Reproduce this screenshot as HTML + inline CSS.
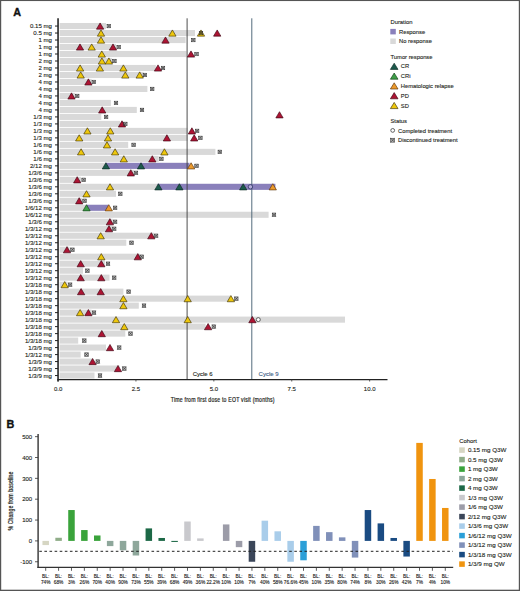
<!DOCTYPE html><html><head><meta charset="utf-8"><style>html,body{margin:0;padding:0;background:#fff;}svg{display:block;}</style></head><body>
<svg width="520" height="591" viewBox="0 0 520 591" font-family='"Liberation Sans", sans-serif'>
<rect x="0" y="0" width="520" height="591" fill="#fff"/>
<text x="13.3" y="15.8" font-size="10.8" font-weight="bold" fill="#111" stroke="#111" stroke-width="0.35">A</text>
<rect x="59.6" y="23.00" width="46.40" height="6.1" fill="#d9d9d9"/>
<rect x="59.6" y="29.99" width="135.40" height="6.1" fill="#d9d9d9"/>
<rect x="59.6" y="36.98" width="126.00" height="6.1" fill="#d9d9d9"/>
<rect x="59.6" y="43.97" width="56.40" height="6.1" fill="#d9d9d9"/>
<rect x="59.6" y="50.96" width="126.90" height="6.1" fill="#d9d9d9"/>
<rect x="59.6" y="57.95" width="52.40" height="6.1" fill="#d9d9d9"/>
<rect x="59.6" y="64.94" width="96.20" height="6.1" fill="#d9d9d9"/>
<rect x="59.6" y="71.93" width="84.00" height="6.1" fill="#d9d9d9"/>
<rect x="59.6" y="78.92" width="32.10" height="6.1" fill="#d9d9d9"/>
<rect x="59.6" y="85.91" width="87.80" height="6.1" fill="#d9d9d9"/>
<rect x="59.6" y="92.90" width="15.40" height="6.1" fill="#d9d9d9"/>
<rect x="59.6" y="99.89" width="51.30" height="6.1" fill="#d9d9d9"/>
<rect x="59.6" y="106.88" width="77.20" height="6.1" fill="#d9d9d9"/>
<rect x="59.6" y="113.87" width="41.70" height="6.1" fill="#d9d9d9"/>
<rect x="59.6" y="120.86" width="60.40" height="6.1" fill="#d9d9d9"/>
<rect x="59.6" y="127.85" width="127.90" height="6.1" fill="#d9d9d9"/>
<rect x="59.6" y="134.84" width="127.90" height="6.1" fill="#d9d9d9"/>
<rect x="59.6" y="141.83" width="68.60" height="6.1" fill="#d9d9d9"/>
<rect x="59.6" y="148.82" width="155.80" height="6.1" fill="#d9d9d9"/>
<rect x="59.6" y="155.81" width="99.10" height="6.1" fill="#d9d9d9"/>
<rect x="59.6" y="162.80" width="46.00" height="6.1" fill="#d9d9d9"/>
<rect x="105.6" y="162.80" width="83.90" height="6.1" fill="#8a80bb"/>
<rect x="59.6" y="169.79" width="74.40" height="6.1" fill="#d9d9d9"/>
<rect x="59.6" y="176.78" width="21.40" height="6.1" fill="#d9d9d9"/>
<rect x="59.6" y="183.77" width="97.90" height="6.1" fill="#d9d9d9"/>
<rect x="157.5" y="183.77" width="117.90" height="6.1" fill="#8a80bb"/>
<rect x="59.6" y="190.76" width="56.40" height="6.1" fill="#d9d9d9"/>
<rect x="59.6" y="197.75" width="22.40" height="6.1" fill="#d9d9d9"/>
<rect x="59.6" y="204.74" width="27.10" height="6.1" fill="#d9d9d9"/>
<rect x="86.7" y="204.74" width="21.80" height="6.1" fill="#8a80bb"/>
<rect x="59.6" y="211.73" width="209.00" height="6.1" fill="#d9d9d9"/>
<rect x="59.6" y="218.72" width="53.20" height="6.1" fill="#d9d9d9"/>
<rect x="59.6" y="225.71" width="52.40" height="6.1" fill="#d9d9d9"/>
<rect x="59.6" y="232.70" width="94.40" height="6.1" fill="#d9d9d9"/>
<rect x="59.6" y="239.69" width="66.70" height="6.1" fill="#d9d9d9"/>
<rect x="59.6" y="246.68" width="9.90" height="6.1" fill="#d9d9d9"/>
<rect x="59.6" y="253.67" width="80.10" height="6.1" fill="#d9d9d9"/>
<rect x="59.6" y="260.66" width="45.40" height="6.1" fill="#d9d9d9"/>
<rect x="59.6" y="267.65" width="23.40" height="6.1" fill="#d9d9d9"/>
<rect x="59.6" y="274.64" width="49.90" height="6.1" fill="#d9d9d9"/>
<rect x="59.6" y="281.63" width="8.00" height="6.1" fill="#d9d9d9"/>
<rect x="59.6" y="288.62" width="63.80" height="6.1" fill="#d9d9d9"/>
<rect x="59.6" y="295.61" width="170.40" height="6.1" fill="#d9d9d9"/>
<rect x="59.6" y="302.60" width="79.20" height="6.1" fill="#d9d9d9"/>
<rect x="59.6" y="309.59" width="32.00" height="6.1" fill="#d9d9d9"/>
<rect x="59.6" y="316.58" width="285.40" height="6.1" fill="#d9d9d9"/>
<rect x="59.6" y="323.57" width="146.00" height="6.1" fill="#d9d9d9"/>
<rect x="59.6" y="330.56" width="65.70" height="6.1" fill="#d9d9d9"/>
<rect x="59.6" y="337.55" width="18.60" height="6.1" fill="#d9d9d9"/>
<rect x="59.6" y="344.54" width="46.40" height="6.1" fill="#d9d9d9"/>
<rect x="59.6" y="351.53" width="21.10" height="6.1" fill="#d9d9d9"/>
<rect x="59.6" y="358.52" width="32.40" height="6.1" fill="#d9d9d9"/>
<rect x="59.6" y="365.51" width="59.90" height="6.1" fill="#d9d9d9"/>
<rect x="59.6" y="372.50" width="34.90" height="6.1" fill="#d9d9d9"/>
<line x1="187.1" y1="18.3" x2="187.1" y2="379.4" stroke="#3a3a3a" stroke-width="0.9"/>
<line x1="251.8" y1="18.3" x2="251.8" y2="379.4" stroke="#4a6476" stroke-width="0.95"/>
<polygon points="100.10,22.95 103.75,29.15 96.45,29.15" fill="#ad1433" stroke="#3d0512" stroke-width="0.65" stroke-linejoin="miter"/>
<rect x="107.05" y="24.30" width="3.50" height="3.50" fill="#3c3c3c" fill-opacity="0.35" stroke="#333" stroke-width="0.55"/><path d="M107.05,24.30L110.55,27.80M110.55,24.30L107.05,27.80" stroke="#333" stroke-width="0.65"/>
<polygon points="101.00,29.94 104.65,36.14 97.35,36.14" fill="#eec70c" stroke="#3e3204" stroke-width="0.65" stroke-linejoin="miter"/>
<polygon points="172.40,29.94 176.05,36.14 168.75,36.14" fill="#eec70c" stroke="#3e3204" stroke-width="0.65" stroke-linejoin="miter"/>
<polygon points="201.00,29.94 204.65,36.14 197.35,36.14" fill="#eec70c" stroke="#3e3204" stroke-width="0.65" stroke-linejoin="miter"/>
<rect x="199.25" y="31.29" width="3.50" height="3.50" fill="#3c3c3c" fill-opacity="0.35" stroke="#333" stroke-width="0.55"/><path d="M199.25,31.29L202.75,34.79M202.75,31.29L199.25,34.79" stroke="#333" stroke-width="0.65"/>
<polygon points="217.20,29.94 220.85,36.14 213.55,36.14" fill="#ad1433" stroke="#3d0512" stroke-width="0.65" stroke-linejoin="miter"/>
<polygon points="101.00,36.93 104.65,43.13 97.35,43.13" fill="#eec70c" stroke="#3e3204" stroke-width="0.65" stroke-linejoin="miter"/>
<polygon points="165.50,36.93 169.15,43.13 161.85,43.13" fill="#ad1433" stroke="#3d0512" stroke-width="0.65" stroke-linejoin="miter"/>
<rect x="191.55" y="38.28" width="3.50" height="3.50" fill="#3c3c3c" fill-opacity="0.35" stroke="#333" stroke-width="0.55"/><path d="M191.55,38.28L195.05,41.78M195.05,38.28L191.55,41.78" stroke="#333" stroke-width="0.65"/>
<polygon points="80.00,43.92 83.65,50.12 76.35,50.12" fill="#ad1433" stroke="#3d0512" stroke-width="0.65" stroke-linejoin="miter"/>
<polygon points="91.70,43.92 95.35,50.12 88.05,50.12" fill="#eec70c" stroke="#3e3204" stroke-width="0.65" stroke-linejoin="miter"/>
<polygon points="113.00,43.92 116.65,50.12 109.35,50.12" fill="#ad1433" stroke="#3d0512" stroke-width="0.65" stroke-linejoin="miter"/>
<rect x="116.95" y="45.27" width="3.50" height="3.50" fill="#3c3c3c" fill-opacity="0.35" stroke="#333" stroke-width="0.55"/><path d="M116.95,45.27L120.45,48.77M120.45,45.27L116.95,48.77" stroke="#333" stroke-width="0.65"/>
<polygon points="101.80,50.91 105.45,57.11 98.15,57.11" fill="#eec70c" stroke="#3e3204" stroke-width="0.65" stroke-linejoin="miter"/>
<polygon points="191.00,50.91 194.65,57.11 187.35,57.11" fill="#ad1433" stroke="#3d0512" stroke-width="0.65" stroke-linejoin="miter"/>
<rect x="194.75" y="52.26" width="3.50" height="3.50" fill="#3c3c3c" fill-opacity="0.35" stroke="#333" stroke-width="0.55"/><path d="M194.75,52.26L198.25,55.76M198.25,52.26L194.75,55.76" stroke="#333" stroke-width="0.65"/>
<polygon points="101.90,57.90 105.55,64.10 98.25,64.10" fill="#eec70c" stroke="#3e3204" stroke-width="0.65" stroke-linejoin="miter"/>
<polygon points="108.90,57.90 112.55,64.10 105.25,64.10" fill="#eec70c" stroke="#3e3204" stroke-width="0.65" stroke-linejoin="miter"/>
<rect x="112.65" y="59.25" width="3.50" height="3.50" fill="#3c3c3c" fill-opacity="0.35" stroke="#333" stroke-width="0.55"/><path d="M112.65,59.25L116.15,62.75M116.15,59.25L112.65,62.75" stroke="#333" stroke-width="0.65"/>
<polygon points="80.10,64.89 83.75,71.09 76.45,71.09" fill="#eec70c" stroke="#3e3204" stroke-width="0.65" stroke-linejoin="miter"/>
<polygon points="99.90,64.89 103.55,71.09 96.25,71.09" fill="#eec70c" stroke="#3e3204" stroke-width="0.65" stroke-linejoin="miter"/>
<polygon points="123.40,64.89 127.05,71.09 119.75,71.09" fill="#eec70c" stroke="#3e3204" stroke-width="0.65" stroke-linejoin="miter"/>
<polygon points="158.00,64.89 161.65,71.09 154.35,71.09" fill="#ad1433" stroke="#3d0512" stroke-width="0.65" stroke-linejoin="miter"/>
<rect x="161.25" y="66.24" width="3.50" height="3.50" fill="#3c3c3c" fill-opacity="0.35" stroke="#333" stroke-width="0.55"/><path d="M161.25,66.24L164.75,69.74M164.75,66.24L161.25,69.74" stroke="#333" stroke-width="0.65"/>
<polygon points="80.70,71.88 84.35,78.08 77.05,78.08" fill="#eec70c" stroke="#3e3204" stroke-width="0.65" stroke-linejoin="miter"/>
<polygon points="125.30,71.88 128.95,78.08 121.65,78.08" fill="#eec70c" stroke="#3e3204" stroke-width="0.65" stroke-linejoin="miter"/>
<polygon points="139.70,71.88 143.35,78.08 136.05,78.08" fill="#eec70c" stroke="#3e3204" stroke-width="0.65" stroke-linejoin="miter"/>
<rect x="143.15" y="73.23" width="3.50" height="3.50" fill="#3c3c3c" fill-opacity="0.35" stroke="#333" stroke-width="0.55"/><path d="M143.15,73.23L146.65,76.73M146.65,73.23L143.15,76.73" stroke="#333" stroke-width="0.65"/>
<polygon points="88.40,78.87 92.05,85.07 84.75,85.07" fill="#ad1433" stroke="#3d0512" stroke-width="0.65" stroke-linejoin="miter"/>
<rect x="92.05" y="80.22" width="3.50" height="3.50" fill="#3c3c3c" fill-opacity="0.35" stroke="#333" stroke-width="0.55"/><path d="M92.05,80.22L95.55,83.72M95.55,80.22L92.05,83.72" stroke="#333" stroke-width="0.65"/>
<rect x="150.45" y="87.21" width="3.50" height="3.50" fill="#3c3c3c" fill-opacity="0.35" stroke="#333" stroke-width="0.55"/><path d="M150.45,87.21L153.95,90.71M153.95,87.21L150.45,90.71" stroke="#333" stroke-width="0.65"/>
<polygon points="71.50,92.85 75.15,99.05 67.85,99.05" fill="#ad1433" stroke="#3d0512" stroke-width="0.65" stroke-linejoin="miter"/>
<rect x="75.45" y="94.20" width="3.50" height="3.50" fill="#3c3c3c" fill-opacity="0.35" stroke="#333" stroke-width="0.55"/><path d="M75.45,94.20L78.95,97.70M78.95,94.20L75.45,97.70" stroke="#333" stroke-width="0.65"/>
<rect x="114.25" y="101.19" width="3.50" height="3.50" fill="#3c3c3c" fill-opacity="0.35" stroke="#333" stroke-width="0.55"/><path d="M114.25,101.19L117.75,104.69M117.75,101.19L114.25,104.69" stroke="#333" stroke-width="0.65"/>
<polygon points="102.20,106.83 105.85,113.03 98.55,113.03" fill="#ad1433" stroke="#3d0512" stroke-width="0.65" stroke-linejoin="miter"/>
<rect x="140.25" y="108.18" width="3.50" height="3.50" fill="#3c3c3c" fill-opacity="0.35" stroke="#333" stroke-width="0.55"/><path d="M140.25,108.18L143.75,111.68M143.75,108.18L140.25,111.68" stroke="#333" stroke-width="0.65"/>
<rect x="104.35" y="115.17" width="3.50" height="3.50" fill="#3c3c3c" fill-opacity="0.35" stroke="#333" stroke-width="0.55"/><path d="M104.35,115.17L107.85,118.67M107.85,115.17L104.35,118.67" stroke="#333" stroke-width="0.65"/>
<polygon points="122.00,120.81 125.65,127.01 118.35,127.01" fill="#ad1433" stroke="#3d0512" stroke-width="0.65" stroke-linejoin="miter"/>
<rect x="123.55" y="122.16" width="3.50" height="3.50" fill="#3c3c3c" fill-opacity="0.35" stroke="#333" stroke-width="0.55"/><path d="M123.55,122.16L127.05,125.66M127.05,122.16L123.55,125.66" stroke="#333" stroke-width="0.65"/>
<polygon points="87.40,127.80 91.05,134.00 83.75,134.00" fill="#eec70c" stroke="#3e3204" stroke-width="0.65" stroke-linejoin="miter"/>
<polygon points="110.30,127.80 113.95,134.00 106.65,134.00" fill="#eec70c" stroke="#3e3204" stroke-width="0.65" stroke-linejoin="miter"/>
<polygon points="191.90,127.80 195.55,134.00 188.25,134.00" fill="#ad1433" stroke="#3d0512" stroke-width="0.65" stroke-linejoin="miter"/>
<rect x="195.35" y="129.15" width="3.50" height="3.50" fill="#3c3c3c" fill-opacity="0.35" stroke="#333" stroke-width="0.55"/><path d="M195.35,129.15L198.85,132.65M198.85,129.15L195.35,132.65" stroke="#333" stroke-width="0.65"/>
<polygon points="79.20,134.79 82.85,140.99 75.55,140.99" fill="#eec70c" stroke="#3e3204" stroke-width="0.65" stroke-linejoin="miter"/>
<polygon points="108.00,134.79 111.65,140.99 104.35,140.99" fill="#eec70c" stroke="#3e3204" stroke-width="0.65" stroke-linejoin="miter"/>
<polygon points="166.90,134.79 170.55,140.99 163.25,140.99" fill="#ad1433" stroke="#3d0512" stroke-width="0.65" stroke-linejoin="miter"/>
<polygon points="194.20,134.79 197.85,140.99 190.55,140.99" fill="#ad1433" stroke="#3d0512" stroke-width="0.65" stroke-linejoin="miter"/>
<rect x="198.65" y="136.14" width="3.50" height="3.50" fill="#3c3c3c" fill-opacity="0.35" stroke="#333" stroke-width="0.55"/><path d="M198.65,136.14L202.15,139.64M202.15,136.14L198.65,139.64" stroke="#333" stroke-width="0.65"/>
<polygon points="107.00,141.78 110.65,147.98 103.35,147.98" fill="#eec70c" stroke="#3e3204" stroke-width="0.65" stroke-linejoin="miter"/>
<rect x="131.85" y="143.13" width="3.50" height="3.50" fill="#3c3c3c" fill-opacity="0.35" stroke="#333" stroke-width="0.55"/><path d="M131.85,143.13L135.35,146.63M135.35,143.13L131.85,146.63" stroke="#333" stroke-width="0.65"/>
<polygon points="81.10,148.77 84.75,154.97 77.45,154.97" fill="#eec70c" stroke="#3e3204" stroke-width="0.65" stroke-linejoin="miter"/>
<polygon points="115.10,148.77 118.75,154.97 111.45,154.97" fill="#eec70c" stroke="#3e3204" stroke-width="0.65" stroke-linejoin="miter"/>
<polygon points="164.40,148.77 168.05,154.97 160.75,154.97" fill="#eec70c" stroke="#3e3204" stroke-width="0.65" stroke-linejoin="miter"/>
<rect x="218.05" y="150.12" width="3.50" height="3.50" fill="#3c3c3c" fill-opacity="0.35" stroke="#333" stroke-width="0.55"/><path d="M218.05,150.12L221.55,153.62M221.55,150.12L218.05,153.62" stroke="#333" stroke-width="0.65"/>
<polygon points="123.80,155.76 127.45,161.96 120.15,161.96" fill="#eec70c" stroke="#3e3204" stroke-width="0.65" stroke-linejoin="miter"/>
<polygon points="152.30,155.76 155.95,161.96 148.65,161.96" fill="#ad1433" stroke="#3d0512" stroke-width="0.65" stroke-linejoin="miter"/>
<rect x="159.65" y="157.11" width="3.50" height="3.50" fill="#3c3c3c" fill-opacity="0.35" stroke="#333" stroke-width="0.55"/><path d="M159.65,157.11L163.15,160.61M163.15,157.11L159.65,160.61" stroke="#333" stroke-width="0.65"/>
<polygon points="105.90,162.75 109.55,168.95 102.25,168.95" fill="#1c5a4c" stroke="#0b2620" stroke-width="0.65" stroke-linejoin="miter"/>
<polygon points="141.00,162.75 144.65,168.95 137.35,168.95" fill="#1c5a4c" stroke="#0b2620" stroke-width="0.65" stroke-linejoin="miter"/>
<polygon points="191.10,162.75 194.75,168.95 187.45,168.95" fill="#ec9a2c" stroke="#5a3208" stroke-width="0.65" stroke-linejoin="miter"/>
<rect x="194.75" y="164.10" width="3.50" height="3.50" fill="#3c3c3c" fill-opacity="0.35" stroke="#333" stroke-width="0.55"/><path d="M194.75,164.10L198.25,167.60M198.25,164.10L194.75,167.60" stroke="#333" stroke-width="0.65"/>
<polygon points="130.80,169.74 134.45,175.94 127.15,175.94" fill="#ad1433" stroke="#3d0512" stroke-width="0.65" stroke-linejoin="miter"/>
<rect x="134.25" y="171.09" width="3.50" height="3.50" fill="#3c3c3c" fill-opacity="0.35" stroke="#333" stroke-width="0.55"/><path d="M134.25,171.09L137.75,174.59M137.75,171.09L134.25,174.59" stroke="#333" stroke-width="0.65"/>
<polygon points="77.20,176.73 80.85,182.93 73.55,182.93" fill="#ad1433" stroke="#3d0512" stroke-width="0.65" stroke-linejoin="miter"/>
<rect x="81.85" y="178.08" width="3.50" height="3.50" fill="#3c3c3c" fill-opacity="0.35" stroke="#333" stroke-width="0.55"/><path d="M81.85,178.08L85.35,181.58M85.35,178.08L81.85,181.58" stroke="#333" stroke-width="0.65"/>
<polygon points="110.00,183.72 113.65,189.92 106.35,189.92" fill="#eec70c" stroke="#3e3204" stroke-width="0.65" stroke-linejoin="miter"/>
<polygon points="158.40,183.72 162.05,189.92 154.75,189.92" fill="#1c5a4c" stroke="#0b2620" stroke-width="0.65" stroke-linejoin="miter"/>
<polygon points="179.40,183.72 183.05,189.92 175.75,189.92" fill="#1c5a4c" stroke="#0b2620" stroke-width="0.65" stroke-linejoin="miter"/>
<polygon points="243.20,183.72 246.85,189.92 239.55,189.92" fill="#1c5a4c" stroke="#0b2620" stroke-width="0.65" stroke-linejoin="miter"/>
<circle cx="250.40" cy="186.82" r="2.2" fill="#b3acd8" stroke="#262a5e" stroke-width="0.75"/>
<polygon points="272.80,183.72 276.45,189.92 269.15,189.92" fill="#ec9a2c" stroke="#5a3208" stroke-width="0.65" stroke-linejoin="miter"/>
<polygon points="86.50,190.71 90.15,196.91 82.85,196.91" fill="#eec70c" stroke="#3e3204" stroke-width="0.65" stroke-linejoin="miter"/>
<rect x="118.55" y="192.06" width="3.50" height="3.50" fill="#3c3c3c" fill-opacity="0.35" stroke="#333" stroke-width="0.55"/><path d="M118.55,192.06L122.05,195.56M122.05,192.06L118.55,195.56" stroke="#333" stroke-width="0.65"/>
<polygon points="79.20,197.70 82.85,203.90 75.55,203.90" fill="#ad1433" stroke="#3d0512" stroke-width="0.65" stroke-linejoin="miter"/>
<rect x="82.75" y="199.05" width="3.50" height="3.50" fill="#3c3c3c" fill-opacity="0.35" stroke="#333" stroke-width="0.55"/><path d="M82.75,199.05L86.25,202.55M86.25,199.05L82.75,202.55" stroke="#333" stroke-width="0.65"/>
<polygon points="86.50,204.69 90.15,210.89 82.85,210.89" fill="#3f9f48" stroke="#103a16" stroke-width="0.65" stroke-linejoin="miter"/>
<polygon points="108.80,204.69 112.45,210.89 105.15,210.89" fill="#ec9a2c" stroke="#5a3208" stroke-width="0.65" stroke-linejoin="miter"/>
<rect x="113.35" y="206.04" width="3.50" height="3.50" fill="#3c3c3c" fill-opacity="0.35" stroke="#333" stroke-width="0.55"/><path d="M113.35,206.04L116.85,209.54M116.85,206.04L113.35,209.54" stroke="#333" stroke-width="0.65"/>
<rect x="272.25" y="213.03" width="3.50" height="3.50" fill="#3c3c3c" fill-opacity="0.35" stroke="#333" stroke-width="0.55"/><path d="M272.25,213.03L275.75,216.53M275.75,213.03L272.25,216.53" stroke="#333" stroke-width="0.65"/>
<polygon points="109.90,218.67 113.55,224.87 106.25,224.87" fill="#ad1433" stroke="#3d0512" stroke-width="0.65" stroke-linejoin="miter"/>
<rect x="113.35" y="220.02" width="3.50" height="3.50" fill="#3c3c3c" fill-opacity="0.35" stroke="#333" stroke-width="0.55"/><path d="M113.35,220.02L116.85,223.52M116.85,220.02L113.35,223.52" stroke="#333" stroke-width="0.65"/>
<polygon points="109.00,225.66 112.65,231.86 105.35,231.86" fill="#ad1433" stroke="#3d0512" stroke-width="0.65" stroke-linejoin="miter"/>
<rect x="112.45" y="227.01" width="3.50" height="3.50" fill="#3c3c3c" fill-opacity="0.35" stroke="#333" stroke-width="0.55"/><path d="M112.45,227.01L115.95,230.51M115.95,227.01L112.45,230.51" stroke="#333" stroke-width="0.65"/>
<polygon points="100.70,232.65 104.35,238.85 97.05,238.85" fill="#eec70c" stroke="#3e3204" stroke-width="0.65" stroke-linejoin="miter"/>
<polygon points="151.30,232.65 154.95,238.85 147.65,238.85" fill="#ad1433" stroke="#3d0512" stroke-width="0.65" stroke-linejoin="miter"/>
<rect x="154.35" y="234.00" width="3.50" height="3.50" fill="#3c3c3c" fill-opacity="0.35" stroke="#333" stroke-width="0.55"/><path d="M154.35,234.00L157.85,237.50M157.85,234.00L154.35,237.50" stroke="#333" stroke-width="0.65"/>
<rect x="129.75" y="240.99" width="3.50" height="3.50" fill="#3c3c3c" fill-opacity="0.35" stroke="#333" stroke-width="0.55"/><path d="M129.75,240.99L133.25,244.49M133.25,240.99L129.75,244.49" stroke="#333" stroke-width="0.65"/>
<polygon points="67.00,246.63 70.65,252.83 63.35,252.83" fill="#ad1433" stroke="#3d0512" stroke-width="0.65" stroke-linejoin="miter"/>
<rect x="70.65" y="247.98" width="3.50" height="3.50" fill="#3c3c3c" fill-opacity="0.35" stroke="#333" stroke-width="0.55"/><path d="M70.65,247.98L74.15,251.48M74.15,247.98L70.65,251.48" stroke="#333" stroke-width="0.65"/>
<polygon points="101.30,253.62 104.95,259.82 97.65,259.82" fill="#eec70c" stroke="#3e3204" stroke-width="0.65" stroke-linejoin="miter"/>
<polygon points="137.80,253.62 141.45,259.82 134.15,259.82" fill="#ad1433" stroke="#3d0512" stroke-width="0.65" stroke-linejoin="miter"/>
<rect x="139.95" y="254.97" width="3.50" height="3.50" fill="#3c3c3c" fill-opacity="0.35" stroke="#333" stroke-width="0.55"/><path d="M139.95,254.97L143.45,258.47M143.45,254.97L139.95,258.47" stroke="#333" stroke-width="0.65"/>
<polygon points="80.70,260.61 84.35,266.81 77.05,266.81" fill="#ad1433" stroke="#3d0512" stroke-width="0.65" stroke-linejoin="miter"/>
<polygon points="101.30,260.61 104.95,266.81 97.65,266.81" fill="#ad1433" stroke="#3d0512" stroke-width="0.65" stroke-linejoin="miter"/>
<rect x="106.25" y="261.96" width="3.50" height="3.50" fill="#3c3c3c" fill-opacity="0.35" stroke="#333" stroke-width="0.55"/><path d="M106.25,261.96L109.75,265.46M109.75,261.96L106.25,265.46" stroke="#333" stroke-width="0.65"/>
<rect x="85.65" y="268.95" width="3.50" height="3.50" fill="#3c3c3c" fill-opacity="0.35" stroke="#333" stroke-width="0.55"/><path d="M85.65,268.95L89.15,272.45M89.15,268.95L85.65,272.45" stroke="#333" stroke-width="0.65"/>
<polygon points="80.70,274.59 84.35,280.79 77.05,280.79" fill="#ad1433" stroke="#3d0512" stroke-width="0.65" stroke-linejoin="miter"/>
<polygon points="101.30,274.59 104.95,280.79 97.65,280.79" fill="#ad1433" stroke="#3d0512" stroke-width="0.65" stroke-linejoin="miter"/>
<rect x="112.45" y="275.94" width="3.50" height="3.50" fill="#3c3c3c" fill-opacity="0.35" stroke="#333" stroke-width="0.55"/><path d="M112.45,275.94L115.95,279.44M115.95,275.94L112.45,279.44" stroke="#333" stroke-width="0.65"/>
<polygon points="64.70,281.58 68.35,287.78 61.05,287.78" fill="#eec70c" stroke="#3e3204" stroke-width="0.65" stroke-linejoin="miter"/>
<rect x="68.35" y="282.93" width="3.50" height="3.50" fill="#3c3c3c" fill-opacity="0.35" stroke="#333" stroke-width="0.55"/><path d="M68.35,282.93L71.85,286.43M71.85,282.93L68.35,286.43" stroke="#333" stroke-width="0.65"/>
<polygon points="81.10,288.57 84.75,294.77 77.45,294.77" fill="#ad1433" stroke="#3d0512" stroke-width="0.65" stroke-linejoin="miter"/>
<polygon points="100.70,288.57 104.35,294.77 97.05,294.77" fill="#ad1433" stroke="#3d0512" stroke-width="0.65" stroke-linejoin="miter"/>
<rect x="126.85" y="289.92" width="3.50" height="3.50" fill="#3c3c3c" fill-opacity="0.35" stroke="#333" stroke-width="0.55"/><path d="M126.85,289.92L130.35,293.42M130.35,289.92L126.85,293.42" stroke="#333" stroke-width="0.65"/>
<polygon points="123.40,295.56 127.05,301.76 119.75,301.76" fill="#eec70c" stroke="#3e3204" stroke-width="0.65" stroke-linejoin="miter"/>
<polygon points="187.70,295.56 191.35,301.76 184.05,301.76" fill="#eec70c" stroke="#3e3204" stroke-width="0.65" stroke-linejoin="miter"/>
<polygon points="230.90,295.56 234.55,301.76 227.25,301.76" fill="#eec70c" stroke="#3e3204" stroke-width="0.65" stroke-linejoin="miter"/>
<rect x="234.55" y="296.91" width="3.50" height="3.50" fill="#3c3c3c" fill-opacity="0.35" stroke="#333" stroke-width="0.55"/><path d="M234.55,296.91L238.05,300.41M238.05,296.91L234.55,300.41" stroke="#333" stroke-width="0.65"/>
<polygon points="123.40,302.55 127.05,308.75 119.75,308.75" fill="#eec70c" stroke="#3e3204" stroke-width="0.65" stroke-linejoin="miter"/>
<rect x="142.25" y="303.90" width="3.50" height="3.50" fill="#3c3c3c" fill-opacity="0.35" stroke="#333" stroke-width="0.55"/><path d="M142.25,303.90L145.75,307.40M145.75,303.90L142.25,307.40" stroke="#333" stroke-width="0.65"/>
<polygon points="80.10,309.54 83.75,315.74 76.45,315.74" fill="#eec70c" stroke="#3e3204" stroke-width="0.65" stroke-linejoin="miter"/>
<polygon points="88.40,309.54 92.05,315.74 84.75,315.74" fill="#ad1433" stroke="#3d0512" stroke-width="0.65" stroke-linejoin="miter"/>
<rect x="92.25" y="310.89" width="3.50" height="3.50" fill="#3c3c3c" fill-opacity="0.35" stroke="#333" stroke-width="0.55"/><path d="M92.25,310.89L95.75,314.39M95.75,310.89L92.25,314.39" stroke="#333" stroke-width="0.65"/>
<polygon points="116.00,316.53 119.65,322.73 112.35,322.73" fill="#eec70c" stroke="#3e3204" stroke-width="0.65" stroke-linejoin="miter"/>
<polygon points="187.70,316.53 191.35,322.73 184.05,322.73" fill="#eec70c" stroke="#3e3204" stroke-width="0.65" stroke-linejoin="miter"/>
<polygon points="252.40,316.53 256.05,322.73 248.75,322.73" fill="#ad1433" stroke="#3d0512" stroke-width="0.65" stroke-linejoin="miter"/>
<circle cx="258.30" cy="319.63" r="2.0" fill="#fff" stroke="#333" stroke-width="0.75"/>
<polygon points="124.30,323.52 127.95,329.72 120.65,329.72" fill="#eec70c" stroke="#3e3204" stroke-width="0.65" stroke-linejoin="miter"/>
<polygon points="208.10,323.52 211.75,329.72 204.45,329.72" fill="#ad1433" stroke="#3d0512" stroke-width="0.65" stroke-linejoin="miter"/>
<rect x="212.05" y="324.87" width="3.50" height="3.50" fill="#3c3c3c" fill-opacity="0.35" stroke="#333" stroke-width="0.55"/><path d="M212.05,324.87L215.55,328.37M215.55,324.87L212.05,328.37" stroke="#333" stroke-width="0.65"/>
<polygon points="101.80,330.51 105.45,336.71 98.15,336.71" fill="#ad1433" stroke="#3d0512" stroke-width="0.65" stroke-linejoin="miter"/>
<rect x="128.75" y="331.86" width="3.50" height="3.50" fill="#3c3c3c" fill-opacity="0.35" stroke="#333" stroke-width="0.55"/><path d="M128.75,331.86L132.25,335.36M132.25,331.86L128.75,335.36" stroke="#333" stroke-width="0.65"/>
<rect x="82.55" y="338.85" width="3.50" height="3.50" fill="#3c3c3c" fill-opacity="0.35" stroke="#333" stroke-width="0.55"/><path d="M82.55,338.85L86.05,342.35M86.05,338.85L82.55,342.35" stroke="#333" stroke-width="0.65"/>
<polygon points="110.00,344.49 113.65,350.69 106.35,350.69" fill="#ad1433" stroke="#3d0512" stroke-width="0.65" stroke-linejoin="miter"/>
<rect x="117.45" y="345.84" width="3.50" height="3.50" fill="#3c3c3c" fill-opacity="0.35" stroke="#333" stroke-width="0.55"/><path d="M117.45,345.84L120.95,349.34M120.95,345.84L117.45,349.34" stroke="#333" stroke-width="0.65"/>
<rect x="84.75" y="352.83" width="3.50" height="3.50" fill="#3c3c3c" fill-opacity="0.35" stroke="#333" stroke-width="0.55"/><path d="M84.75,352.83L88.25,356.33M88.25,352.83L84.75,356.33" stroke="#333" stroke-width="0.65"/>
<polygon points="92.60,358.47 96.25,364.67 88.95,364.67" fill="#ad1433" stroke="#3d0512" stroke-width="0.65" stroke-linejoin="miter"/>
<rect x="96.05" y="359.82" width="3.50" height="3.50" fill="#3c3c3c" fill-opacity="0.35" stroke="#333" stroke-width="0.55"/><path d="M96.05,359.82L99.55,363.32M99.55,359.82L96.05,363.32" stroke="#333" stroke-width="0.65"/>
<polygon points="118.00,365.46 121.65,371.66 114.35,371.66" fill="#ad1433" stroke="#3d0512" stroke-width="0.65" stroke-linejoin="miter"/>
<rect x="122.55" y="366.81" width="3.50" height="3.50" fill="#3c3c3c" fill-opacity="0.35" stroke="#333" stroke-width="0.55"/><path d="M122.55,366.81L126.05,370.31M126.05,366.81L122.55,370.31" stroke="#333" stroke-width="0.65"/>
<rect x="98.25" y="373.80" width="3.50" height="3.50" fill="#3c3c3c" fill-opacity="0.35" stroke="#333" stroke-width="0.55"/><path d="M98.25,373.80L101.75,377.30M101.75,373.80L98.25,377.30" stroke="#333" stroke-width="0.65"/>
<polygon points="279.50,111.70 283.15,117.90 275.85,117.90" fill="#ad1433" stroke="#3d0512" stroke-width="0.65" stroke-linejoin="miter"/>
<line x1="58.05" y1="18.3" x2="58.05" y2="381.5" stroke="#262626" stroke-width="1.6"/>
<line x1="55" y1="26.05" x2="58.05" y2="26.05" stroke="#222" stroke-width="1"/>
<text x="52" y="28.20" font-size="6.1" text-anchor="end" fill="#231f20" stroke="#231f20" stroke-width="0.12">0.15 mg</text>
<line x1="55" y1="33.04" x2="58.05" y2="33.04" stroke="#222" stroke-width="1"/>
<text x="52" y="35.19" font-size="6.1" text-anchor="end" fill="#231f20" stroke="#231f20" stroke-width="0.12">0.5 mg</text>
<line x1="55" y1="40.03" x2="58.05" y2="40.03" stroke="#222" stroke-width="1"/>
<text x="52" y="42.18" font-size="6.1" text-anchor="end" fill="#231f20" stroke="#231f20" stroke-width="0.12">1 mg</text>
<line x1="55" y1="47.02" x2="58.05" y2="47.02" stroke="#222" stroke-width="1"/>
<text x="52" y="49.17" font-size="6.1" text-anchor="end" fill="#231f20" stroke="#231f20" stroke-width="0.12">1 mg</text>
<line x1="55" y1="54.01" x2="58.05" y2="54.01" stroke="#222" stroke-width="1"/>
<text x="52" y="56.16" font-size="6.1" text-anchor="end" fill="#231f20" stroke="#231f20" stroke-width="0.12">1 mg</text>
<line x1="55" y1="61.00" x2="58.05" y2="61.00" stroke="#222" stroke-width="1"/>
<text x="52" y="63.15" font-size="6.1" text-anchor="end" fill="#231f20" stroke="#231f20" stroke-width="0.12">2 mg</text>
<line x1="55" y1="67.99" x2="58.05" y2="67.99" stroke="#222" stroke-width="1"/>
<text x="52" y="70.14" font-size="6.1" text-anchor="end" fill="#231f20" stroke="#231f20" stroke-width="0.12">2 mg</text>
<line x1="55" y1="74.98" x2="58.05" y2="74.98" stroke="#222" stroke-width="1"/>
<text x="52" y="77.13" font-size="6.1" text-anchor="end" fill="#231f20" stroke="#231f20" stroke-width="0.12">2 mg</text>
<line x1="55" y1="81.97" x2="58.05" y2="81.97" stroke="#222" stroke-width="1"/>
<text x="52" y="84.12" font-size="6.1" text-anchor="end" fill="#231f20" stroke="#231f20" stroke-width="0.12">4 mg</text>
<line x1="55" y1="88.96" x2="58.05" y2="88.96" stroke="#222" stroke-width="1"/>
<text x="52" y="91.11" font-size="6.1" text-anchor="end" fill="#231f20" stroke="#231f20" stroke-width="0.12">4 mg</text>
<line x1="55" y1="95.95" x2="58.05" y2="95.95" stroke="#222" stroke-width="1"/>
<text x="52" y="98.10" font-size="6.1" text-anchor="end" fill="#231f20" stroke="#231f20" stroke-width="0.12">4 mg</text>
<line x1="55" y1="102.94" x2="58.05" y2="102.94" stroke="#222" stroke-width="1"/>
<text x="52" y="105.09" font-size="6.1" text-anchor="end" fill="#231f20" stroke="#231f20" stroke-width="0.12">4 mg</text>
<line x1="55" y1="109.93" x2="58.05" y2="109.93" stroke="#222" stroke-width="1"/>
<text x="52" y="112.08" font-size="6.1" text-anchor="end" fill="#231f20" stroke="#231f20" stroke-width="0.12">4 mg</text>
<line x1="55" y1="116.92" x2="58.05" y2="116.92" stroke="#222" stroke-width="1"/>
<text x="52" y="119.07" font-size="6.1" text-anchor="end" fill="#231f20" stroke="#231f20" stroke-width="0.12">1/3 mg</text>
<line x1="55" y1="123.91" x2="58.05" y2="123.91" stroke="#222" stroke-width="1"/>
<text x="52" y="126.06" font-size="6.1" text-anchor="end" fill="#231f20" stroke="#231f20" stroke-width="0.12">1/3 mg</text>
<line x1="55" y1="130.90" x2="58.05" y2="130.90" stroke="#222" stroke-width="1"/>
<text x="52" y="133.05" font-size="6.1" text-anchor="end" fill="#231f20" stroke="#231f20" stroke-width="0.12">1/3 mg</text>
<line x1="55" y1="137.89" x2="58.05" y2="137.89" stroke="#222" stroke-width="1"/>
<text x="52" y="140.04" font-size="6.1" text-anchor="end" fill="#231f20" stroke="#231f20" stroke-width="0.12">1/3 mg</text>
<line x1="55" y1="144.88" x2="58.05" y2="144.88" stroke="#222" stroke-width="1"/>
<text x="52" y="147.03" font-size="6.1" text-anchor="end" fill="#231f20" stroke="#231f20" stroke-width="0.12">1/6 mg</text>
<line x1="55" y1="151.87" x2="58.05" y2="151.87" stroke="#222" stroke-width="1"/>
<text x="52" y="154.02" font-size="6.1" text-anchor="end" fill="#231f20" stroke="#231f20" stroke-width="0.12">1/6 mg</text>
<line x1="55" y1="158.86" x2="58.05" y2="158.86" stroke="#222" stroke-width="1"/>
<text x="52" y="161.01" font-size="6.1" text-anchor="end" fill="#231f20" stroke="#231f20" stroke-width="0.12">1/6 mg</text>
<line x1="55" y1="165.85" x2="58.05" y2="165.85" stroke="#222" stroke-width="1"/>
<text x="52" y="168.00" font-size="6.1" text-anchor="end" fill="#231f20" stroke="#231f20" stroke-width="0.12">2/12 mg</text>
<line x1="55" y1="172.84" x2="58.05" y2="172.84" stroke="#222" stroke-width="1"/>
<text x="52" y="174.99" font-size="6.1" text-anchor="end" fill="#231f20" stroke="#231f20" stroke-width="0.12">1/3/6 mg</text>
<line x1="55" y1="179.83" x2="58.05" y2="179.83" stroke="#222" stroke-width="1"/>
<text x="52" y="181.98" font-size="6.1" text-anchor="end" fill="#231f20" stroke="#231f20" stroke-width="0.12">1/3/6 mg</text>
<line x1="55" y1="186.82" x2="58.05" y2="186.82" stroke="#222" stroke-width="1"/>
<text x="52" y="188.97" font-size="6.1" text-anchor="end" fill="#231f20" stroke="#231f20" stroke-width="0.12">1/3/6 mg</text>
<line x1="55" y1="193.81" x2="58.05" y2="193.81" stroke="#222" stroke-width="1"/>
<text x="52" y="195.96" font-size="6.1" text-anchor="end" fill="#231f20" stroke="#231f20" stroke-width="0.12">1/3/6 mg</text>
<line x1="55" y1="200.80" x2="58.05" y2="200.80" stroke="#222" stroke-width="1"/>
<text x="52" y="202.95" font-size="6.1" text-anchor="end" fill="#231f20" stroke="#231f20" stroke-width="0.12">1/3/6 mg</text>
<line x1="55" y1="207.79" x2="58.05" y2="207.79" stroke="#222" stroke-width="1"/>
<text x="52" y="209.94" font-size="6.1" text-anchor="end" fill="#231f20" stroke="#231f20" stroke-width="0.12">1/6/12 mg</text>
<line x1="55" y1="214.78" x2="58.05" y2="214.78" stroke="#222" stroke-width="1"/>
<text x="52" y="216.93" font-size="6.1" text-anchor="end" fill="#231f20" stroke="#231f20" stroke-width="0.12">1/6/12 mg</text>
<line x1="55" y1="221.77" x2="58.05" y2="221.77" stroke="#222" stroke-width="1"/>
<text x="52" y="223.92" font-size="6.1" text-anchor="end" fill="#231f20" stroke="#231f20" stroke-width="0.12">1/3/6 mg</text>
<line x1="55" y1="228.76" x2="58.05" y2="228.76" stroke="#222" stroke-width="1"/>
<text x="52" y="230.91" font-size="6.1" text-anchor="end" fill="#231f20" stroke="#231f20" stroke-width="0.12">1/3/12 mg</text>
<line x1="55" y1="235.75" x2="58.05" y2="235.75" stroke="#222" stroke-width="1"/>
<text x="52" y="237.90" font-size="6.1" text-anchor="end" fill="#231f20" stroke="#231f20" stroke-width="0.12">1/3/12 mg</text>
<line x1="55" y1="242.74" x2="58.05" y2="242.74" stroke="#222" stroke-width="1"/>
<text x="52" y="244.89" font-size="6.1" text-anchor="end" fill="#231f20" stroke="#231f20" stroke-width="0.12">1/3/12 mg</text>
<line x1="55" y1="249.73" x2="58.05" y2="249.73" stroke="#222" stroke-width="1"/>
<text x="52" y="251.88" font-size="6.1" text-anchor="end" fill="#231f20" stroke="#231f20" stroke-width="0.12">1/3/12 mg</text>
<line x1="55" y1="256.72" x2="58.05" y2="256.72" stroke="#222" stroke-width="1"/>
<text x="52" y="258.87" font-size="6.1" text-anchor="end" fill="#231f20" stroke="#231f20" stroke-width="0.12">1/3/12 mg</text>
<line x1="55" y1="263.71" x2="58.05" y2="263.71" stroke="#222" stroke-width="1"/>
<text x="52" y="265.86" font-size="6.1" text-anchor="end" fill="#231f20" stroke="#231f20" stroke-width="0.12">1/3/12 mg</text>
<line x1="55" y1="270.70" x2="58.05" y2="270.70" stroke="#222" stroke-width="1"/>
<text x="52" y="272.85" font-size="6.1" text-anchor="end" fill="#231f20" stroke="#231f20" stroke-width="0.12">1/3/12 mg</text>
<line x1="55" y1="277.69" x2="58.05" y2="277.69" stroke="#222" stroke-width="1"/>
<text x="52" y="279.84" font-size="6.1" text-anchor="end" fill="#231f20" stroke="#231f20" stroke-width="0.12">1/3/12 mg</text>
<line x1="55" y1="284.68" x2="58.05" y2="284.68" stroke="#222" stroke-width="1"/>
<text x="52" y="286.83" font-size="6.1" text-anchor="end" fill="#231f20" stroke="#231f20" stroke-width="0.12">1/3/18 mg</text>
<line x1="55" y1="291.67" x2="58.05" y2="291.67" stroke="#222" stroke-width="1"/>
<text x="52" y="293.82" font-size="6.1" text-anchor="end" fill="#231f20" stroke="#231f20" stroke-width="0.12">1/3/18 mg</text>
<line x1="55" y1="298.66" x2="58.05" y2="298.66" stroke="#222" stroke-width="1"/>
<text x="52" y="300.81" font-size="6.1" text-anchor="end" fill="#231f20" stroke="#231f20" stroke-width="0.12">1/3/18 mg</text>
<line x1="55" y1="305.65" x2="58.05" y2="305.65" stroke="#222" stroke-width="1"/>
<text x="52" y="307.80" font-size="6.1" text-anchor="end" fill="#231f20" stroke="#231f20" stroke-width="0.12">1/3/18 mg</text>
<line x1="55" y1="312.64" x2="58.05" y2="312.64" stroke="#222" stroke-width="1"/>
<text x="52" y="314.79" font-size="6.1" text-anchor="end" fill="#231f20" stroke="#231f20" stroke-width="0.12">1/3/18 mg</text>
<line x1="55" y1="319.63" x2="58.05" y2="319.63" stroke="#222" stroke-width="1"/>
<text x="52" y="321.78" font-size="6.1" text-anchor="end" fill="#231f20" stroke="#231f20" stroke-width="0.12">1/3/18 mg</text>
<line x1="55" y1="326.62" x2="58.05" y2="326.62" stroke="#222" stroke-width="1"/>
<text x="52" y="328.77" font-size="6.1" text-anchor="end" fill="#231f20" stroke="#231f20" stroke-width="0.12">1/3/18 mg</text>
<line x1="55" y1="333.61" x2="58.05" y2="333.61" stroke="#222" stroke-width="1"/>
<text x="52" y="335.76" font-size="6.1" text-anchor="end" fill="#231f20" stroke="#231f20" stroke-width="0.12">1/3/18 mg</text>
<line x1="55" y1="340.60" x2="58.05" y2="340.60" stroke="#222" stroke-width="1"/>
<text x="52" y="342.75" font-size="6.1" text-anchor="end" fill="#231f20" stroke="#231f20" stroke-width="0.12">1/3/18 mg</text>
<line x1="55" y1="347.59" x2="58.05" y2="347.59" stroke="#222" stroke-width="1"/>
<text x="52" y="349.74" font-size="6.1" text-anchor="end" fill="#231f20" stroke="#231f20" stroke-width="0.12">1/3/9 mg</text>
<line x1="55" y1="354.58" x2="58.05" y2="354.58" stroke="#222" stroke-width="1"/>
<text x="52" y="356.73" font-size="6.1" text-anchor="end" fill="#231f20" stroke="#231f20" stroke-width="0.12">1/3/12 mg</text>
<line x1="55" y1="361.57" x2="58.05" y2="361.57" stroke="#222" stroke-width="1"/>
<text x="52" y="363.72" font-size="6.1" text-anchor="end" fill="#231f20" stroke="#231f20" stroke-width="0.12">1/3/9 mg</text>
<line x1="55" y1="368.56" x2="58.05" y2="368.56" stroke="#222" stroke-width="1"/>
<text x="52" y="370.71" font-size="6.1" text-anchor="end" fill="#231f20" stroke="#231f20" stroke-width="0.12">1/3/9 mg</text>
<line x1="55" y1="375.55" x2="58.05" y2="375.55" stroke="#222" stroke-width="1"/>
<text x="52" y="377.70" font-size="6.1" text-anchor="end" fill="#231f20" stroke="#231f20" stroke-width="0.12">1/3/9 mg</text>
<line x1="57.4" y1="379.6" x2="387.5" y2="379.6" stroke="#222" stroke-width="1.1"/>
<line x1="58.05" y1="379.4" x2="58.05" y2="381.5" stroke="#333" stroke-width="0.8"/>
<text x="58.05" y="390.7" font-size="6" text-anchor="middle" fill="#231f20" stroke="#231f20" stroke-width="0.12">0.0</text>
<line x1="135.95" y1="379.4" x2="135.95" y2="381.5" stroke="#333" stroke-width="0.8"/>
<text x="135.95" y="390.7" font-size="6" text-anchor="middle" fill="#231f20" stroke="#231f20" stroke-width="0.12">2.5</text>
<line x1="213.85" y1="379.4" x2="213.85" y2="381.5" stroke="#333" stroke-width="0.8"/>
<text x="213.85" y="390.7" font-size="6" text-anchor="middle" fill="#231f20" stroke="#231f20" stroke-width="0.12">5.0</text>
<line x1="291.75" y1="379.4" x2="291.75" y2="381.5" stroke="#333" stroke-width="0.8"/>
<text x="291.75" y="390.7" font-size="6" text-anchor="middle" fill="#231f20" stroke="#231f20" stroke-width="0.12">7.5</text>
<line x1="369.65" y1="379.4" x2="369.65" y2="381.5" stroke="#333" stroke-width="0.8"/>
<text x="369.65" y="390.7" font-size="6" text-anchor="middle" fill="#231f20" stroke="#231f20" stroke-width="0.12">10.0</text>
<text transform="translate(170.8,401.5) scale(0.8,1)" x="0" y="0" font-size="6.5" textLength="129.62" lengthAdjust="spacing" fill="#231f20" stroke="#231f20" stroke-width="0.2">Time from first dose to EOT visit (months)</text>
<text x="192.7" y="376.0" font-size="6" fill="#231f20" stroke="#231f20" stroke-width="0.12">Cycle 6</text>
<text x="258.6" y="376.0" font-size="6" fill="#405d86" stroke="#405d86" stroke-width="0.12">Cycle 9</text>
<text x="390.5" y="23.6" font-size="5.8" fill="#231f20" stroke="#231f20" stroke-width="0.12">Duration</text>
<rect x="390.3" y="28.9" width="5.5" height="5.5" fill="#8a80bb"/>
<text x="399" y="33.8" font-size="5.8" fill="#231f20" stroke="#231f20" stroke-width="0.12">Response</text>
<rect x="390.3" y="38.5" width="5.5" height="5.5" fill="#d9d9d9"/>
<text x="399" y="43.3" font-size="5.8" fill="#231f20" stroke="#231f20" stroke-width="0.12">No response</text>
<text x="390.5" y="59.0" font-size="5.8" fill="#231f20" stroke="#231f20" stroke-width="0.12">Tumor response</text>
<polygon points="394.20,63.20 398.00,69.40 390.40,69.40" fill="#1c5a4c" stroke="#0b2620" stroke-width="0.65" stroke-linejoin="miter"/>
<text x="400.8" y="68.40" font-size="5.8" fill="#231f20" stroke="#231f20" stroke-width="0.12">CR</text>
<polygon points="394.20,73.00 398.00,79.20 390.40,79.20" fill="#3f9f48" stroke="#103a16" stroke-width="0.65" stroke-linejoin="miter"/>
<text x="400.8" y="78.20" font-size="5.8" fill="#231f20" stroke="#231f20" stroke-width="0.12">CRi</text>
<polygon points="394.20,82.80 398.00,89.00 390.40,89.00" fill="#ec9a2c" stroke="#5a3208" stroke-width="0.65" stroke-linejoin="miter"/>
<text x="400.8" y="88.00" font-size="5.8" fill="#231f20" stroke="#231f20" stroke-width="0.12">Hematologic relapse</text>
<polygon points="394.20,92.60 398.00,98.80 390.40,98.80" fill="#ad1433" stroke="#3d0512" stroke-width="0.65" stroke-linejoin="miter"/>
<text x="400.8" y="97.80" font-size="5.8" fill="#231f20" stroke="#231f20" stroke-width="0.12">PD</text>
<polygon points="394.20,102.40 398.00,108.60 390.40,108.60" fill="#eec70c" stroke="#3e3204" stroke-width="0.65" stroke-linejoin="miter"/>
<text x="400.8" y="107.60" font-size="5.8" fill="#231f20" stroke="#231f20" stroke-width="0.12">SD</text>
<text x="390.5" y="122.9" font-size="5.8" fill="#231f20" stroke="#231f20" stroke-width="0.12">Status</text>
<circle cx="392.70" cy="130.40" r="1.9" fill="#fff" stroke="#333" stroke-width="0.75"/>
<text x="398" y="132.5" font-size="5.8" fill="#231f20" stroke="#231f20" stroke-width="0.12">Completed treatment</text>
<rect x="390.65" y="138.25" width="3.90" height="3.90" fill="#3c3c3c" fill-opacity="0.35" stroke="#333" stroke-width="0.55"/><path d="M390.65,138.25L394.55,142.15M394.55,138.25L390.65,142.15" stroke="#333" stroke-width="0.65"/>
<text x="398" y="142.3" font-size="5.8" fill="#231f20" stroke="#231f20" stroke-width="0.12">Discontinued treatment</text>
<text x="6.6" y="428.1" font-size="10.8" font-weight="bold" fill="#111" stroke="#111" stroke-width="0.35">B</text>
<rect x="42.45" y="540.90" width="6.5" height="4.17" fill="#d6d6c3"/>
<rect x="55.34" y="537.77" width="6.5" height="3.13" fill="#90ad89"/>
<rect x="68.23" y="510.04" width="6.5" height="30.86" fill="#3aa33b"/>
<rect x="81.12" y="530.06" width="6.5" height="10.84" fill="#3aa33b"/>
<rect x="94.01" y="535.48" width="6.5" height="5.42" fill="#3aa33b"/>
<rect x="106.90" y="540.90" width="6.5" height="5.21" fill="#8ea79b"/>
<rect x="119.79" y="540.90" width="6.5" height="9.38" fill="#8ea79b"/>
<rect x="132.68" y="540.90" width="6.5" height="14.60" fill="#8ea79b"/>
<rect x="145.57" y="528.39" width="6.5" height="12.51" fill="#1c6846"/>
<rect x="158.46" y="537.98" width="6.5" height="2.92" fill="#1c6846"/>
<rect x="171.35" y="540.90" width="6.5" height="1.04" fill="#1c6846"/>
<rect x="184.24" y="521.51" width="6.5" height="19.39" fill="#c9c9cd"/>
<rect x="197.13" y="538.40" width="6.5" height="2.50" fill="#c9c9cd"/>
<rect x="222.91" y="524.43" width="6.5" height="16.47" fill="#9c9ca8"/>
<rect x="235.80" y="540.90" width="6.5" height="6.25" fill="#9c9ca8"/>
<rect x="248.69" y="540.90" width="6.5" height="20.85" fill="#3b4659"/>
<rect x="261.58" y="520.68" width="6.5" height="20.22" fill="#a9cdea"/>
<rect x="274.47" y="531.31" width="6.5" height="9.59" fill="#a9cdea"/>
<rect x="287.36" y="540.90" width="6.5" height="20.85" fill="#a9cdea"/>
<rect x="300.25" y="540.90" width="6.5" height="19.39" fill="#2b9fd8"/>
<rect x="313.14" y="525.89" width="6.5" height="15.01" fill="#8090b9"/>
<rect x="326.03" y="532.14" width="6.5" height="8.76" fill="#8090b9"/>
<rect x="338.92" y="537.36" width="6.5" height="3.54" fill="#8090b9"/>
<rect x="351.81" y="540.90" width="6.5" height="16.68" fill="#8090b9"/>
<rect x="364.70" y="510.04" width="6.5" height="30.86" fill="#1a4b82"/>
<rect x="377.59" y="523.39" width="6.5" height="17.51" fill="#1a4b82"/>
<rect x="390.48" y="537.98" width="6.5" height="2.92" fill="#1a4b82"/>
<rect x="403.37" y="540.90" width="6.5" height="15.64" fill="#1a4b82"/>
<rect x="416.26" y="442.90" width="6.5" height="98.00" fill="#f0940f"/>
<rect x="429.15" y="478.98" width="6.5" height="61.92" fill="#f0940f"/>
<rect x="442.04" y="507.96" width="6.5" height="32.94" fill="#f0940f"/>
<line x1="39" y1="551.3" x2="453" y2="551.3" stroke="#222" stroke-width="1" stroke-dasharray="2.6 2.5" stroke-dashoffset="-0.3"/>
<line x1="38.1" y1="434" x2="38.1" y2="567.9" stroke="#333" stroke-width="1.4"/>
<line x1="35" y1="436.65" x2="38.1" y2="436.65" stroke="#333" stroke-width="0.8"/>
<text x="32.2" y="438.80" font-size="6" text-anchor="end" fill="#231f20" stroke="#231f20" stroke-width="0.12">500</text>
<line x1="35" y1="457.50" x2="38.1" y2="457.50" stroke="#333" stroke-width="0.8"/>
<text x="32.2" y="459.65" font-size="6" text-anchor="end" fill="#231f20" stroke="#231f20" stroke-width="0.12">400</text>
<line x1="35" y1="478.35" x2="38.1" y2="478.35" stroke="#333" stroke-width="0.8"/>
<text x="32.2" y="480.50" font-size="6" text-anchor="end" fill="#231f20" stroke="#231f20" stroke-width="0.12">300</text>
<line x1="35" y1="499.20" x2="38.1" y2="499.20" stroke="#333" stroke-width="0.8"/>
<text x="32.2" y="501.35" font-size="6" text-anchor="end" fill="#231f20" stroke="#231f20" stroke-width="0.12">200</text>
<line x1="35" y1="520.05" x2="38.1" y2="520.05" stroke="#333" stroke-width="0.8"/>
<text x="32.2" y="522.20" font-size="6" text-anchor="end" fill="#231f20" stroke="#231f20" stroke-width="0.12">100</text>
<line x1="35" y1="540.90" x2="38.1" y2="540.90" stroke="#333" stroke-width="0.8"/>
<text x="32.2" y="543.05" font-size="6" text-anchor="end" fill="#231f20" stroke="#231f20" stroke-width="0.12">0</text>
<line x1="35" y1="561.75" x2="38.1" y2="561.75" stroke="#333" stroke-width="0.8"/>
<text x="32.2" y="563.90" font-size="6" text-anchor="end" fill="#231f20" stroke="#231f20" stroke-width="0.12">-100</text>
<line x1="37.4" y1="567.3" x2="453.2" y2="567.3" stroke="#333" stroke-width="1.2"/>
<line x1="45.70" y1="567.3" x2="45.70" y2="570.8" stroke="#333" stroke-width="0.8"/>
<text x="45.70" y="577.9" font-size="4.8" text-anchor="middle" fill="#222" stroke="#222" stroke-width="0.12">BL:</text>
<text x="45.70" y="583.7" font-size="4.8" text-anchor="middle" fill="#222" stroke="#222" stroke-width="0.12">74%</text>
<line x1="58.59" y1="567.3" x2="58.59" y2="570.8" stroke="#333" stroke-width="0.8"/>
<text x="58.59" y="577.9" font-size="4.8" text-anchor="middle" fill="#222" stroke="#222" stroke-width="0.12">BL:</text>
<text x="58.59" y="583.7" font-size="4.8" text-anchor="middle" fill="#222" stroke="#222" stroke-width="0.12">68%</text>
<line x1="71.48" y1="567.3" x2="71.48" y2="570.8" stroke="#333" stroke-width="0.8"/>
<text x="71.48" y="577.9" font-size="4.8" text-anchor="middle" fill="#222" stroke="#222" stroke-width="0.12">BL:</text>
<text x="71.48" y="583.7" font-size="4.8" text-anchor="middle" fill="#222" stroke="#222" stroke-width="0.12">3%</text>
<line x1="84.37" y1="567.3" x2="84.37" y2="570.8" stroke="#333" stroke-width="0.8"/>
<text x="84.37" y="577.9" font-size="4.8" text-anchor="middle" fill="#222" stroke="#222" stroke-width="0.12">BL:</text>
<text x="84.37" y="583.7" font-size="4.8" text-anchor="middle" fill="#222" stroke="#222" stroke-width="0.12">26%</text>
<line x1="97.26" y1="567.3" x2="97.26" y2="570.8" stroke="#333" stroke-width="0.8"/>
<text x="97.26" y="577.9" font-size="4.8" text-anchor="middle" fill="#222" stroke="#222" stroke-width="0.12">BL:</text>
<text x="97.26" y="583.7" font-size="4.8" text-anchor="middle" fill="#222" stroke="#222" stroke-width="0.12">70%</text>
<line x1="110.15" y1="567.3" x2="110.15" y2="570.8" stroke="#333" stroke-width="0.8"/>
<text x="110.15" y="577.9" font-size="4.8" text-anchor="middle" fill="#222" stroke="#222" stroke-width="0.12">BL:</text>
<text x="110.15" y="583.7" font-size="4.8" text-anchor="middle" fill="#222" stroke="#222" stroke-width="0.12">40%</text>
<line x1="123.04" y1="567.3" x2="123.04" y2="570.8" stroke="#333" stroke-width="0.8"/>
<text x="123.04" y="577.9" font-size="4.8" text-anchor="middle" fill="#222" stroke="#222" stroke-width="0.12">BL:</text>
<text x="123.04" y="583.7" font-size="4.8" text-anchor="middle" fill="#222" stroke="#222" stroke-width="0.12">90%</text>
<line x1="135.93" y1="567.3" x2="135.93" y2="570.8" stroke="#333" stroke-width="0.8"/>
<text x="135.93" y="577.9" font-size="4.8" text-anchor="middle" fill="#222" stroke="#222" stroke-width="0.12">BL:</text>
<text x="135.93" y="583.7" font-size="4.8" text-anchor="middle" fill="#222" stroke="#222" stroke-width="0.12">73%</text>
<line x1="148.82" y1="567.3" x2="148.82" y2="570.8" stroke="#333" stroke-width="0.8"/>
<text x="148.82" y="577.9" font-size="4.8" text-anchor="middle" fill="#222" stroke="#222" stroke-width="0.12">BL:</text>
<text x="148.82" y="583.7" font-size="4.8" text-anchor="middle" fill="#222" stroke="#222" stroke-width="0.12">55%</text>
<line x1="161.71" y1="567.3" x2="161.71" y2="570.8" stroke="#333" stroke-width="0.8"/>
<text x="161.71" y="577.9" font-size="4.8" text-anchor="middle" fill="#222" stroke="#222" stroke-width="0.12">BL:</text>
<text x="161.71" y="583.7" font-size="4.8" text-anchor="middle" fill="#222" stroke="#222" stroke-width="0.12">39%</text>
<line x1="174.60" y1="567.3" x2="174.60" y2="570.8" stroke="#333" stroke-width="0.8"/>
<text x="174.60" y="577.9" font-size="4.8" text-anchor="middle" fill="#222" stroke="#222" stroke-width="0.12">BL:</text>
<text x="174.60" y="583.7" font-size="4.8" text-anchor="middle" fill="#222" stroke="#222" stroke-width="0.12">68%</text>
<line x1="187.49" y1="567.3" x2="187.49" y2="570.8" stroke="#333" stroke-width="0.8"/>
<text x="187.49" y="577.9" font-size="4.8" text-anchor="middle" fill="#222" stroke="#222" stroke-width="0.12">BL:</text>
<text x="187.49" y="583.7" font-size="4.8" text-anchor="middle" fill="#222" stroke="#222" stroke-width="0.12">49%</text>
<line x1="200.38" y1="567.3" x2="200.38" y2="570.8" stroke="#333" stroke-width="0.8"/>
<text x="200.38" y="577.9" font-size="4.8" text-anchor="middle" fill="#222" stroke="#222" stroke-width="0.12">BL:</text>
<text x="200.38" y="583.7" font-size="4.8" text-anchor="middle" fill="#222" stroke="#222" stroke-width="0.12">36%</text>
<line x1="213.27" y1="567.3" x2="213.27" y2="570.8" stroke="#333" stroke-width="0.8"/>
<text x="213.27" y="577.9" font-size="4.8" text-anchor="middle" fill="#222" stroke="#222" stroke-width="0.12">BL:</text>
<text x="213.27" y="583.7" font-size="4.8" text-anchor="middle" fill="#222" stroke="#222" stroke-width="0.12">22.2%</text>
<line x1="226.16" y1="567.3" x2="226.16" y2="570.8" stroke="#333" stroke-width="0.8"/>
<text x="226.16" y="577.9" font-size="4.8" text-anchor="middle" fill="#222" stroke="#222" stroke-width="0.12">BL:</text>
<text x="226.16" y="583.7" font-size="4.8" text-anchor="middle" fill="#222" stroke="#222" stroke-width="0.12">10%</text>
<line x1="239.05" y1="567.3" x2="239.05" y2="570.8" stroke="#333" stroke-width="0.8"/>
<text x="239.05" y="577.9" font-size="4.8" text-anchor="middle" fill="#222" stroke="#222" stroke-width="0.12">BL:</text>
<text x="239.05" y="583.7" font-size="4.8" text-anchor="middle" fill="#222" stroke="#222" stroke-width="0.12">10%</text>
<line x1="251.94" y1="567.3" x2="251.94" y2="570.8" stroke="#333" stroke-width="0.8"/>
<text x="251.94" y="577.9" font-size="4.8" text-anchor="middle" fill="#222" stroke="#222" stroke-width="0.12">BL:</text>
<text x="251.94" y="583.7" font-size="4.8" text-anchor="middle" fill="#222" stroke="#222" stroke-width="0.12">7%</text>
<line x1="264.83" y1="567.3" x2="264.83" y2="570.8" stroke="#333" stroke-width="0.8"/>
<text x="264.83" y="577.9" font-size="4.8" text-anchor="middle" fill="#222" stroke="#222" stroke-width="0.12">BL:</text>
<text x="264.83" y="583.7" font-size="4.8" text-anchor="middle" fill="#222" stroke="#222" stroke-width="0.12">40%</text>
<line x1="277.72" y1="567.3" x2="277.72" y2="570.8" stroke="#333" stroke-width="0.8"/>
<text x="277.72" y="577.9" font-size="4.8" text-anchor="middle" fill="#222" stroke="#222" stroke-width="0.12">BL:</text>
<text x="277.72" y="583.7" font-size="4.8" text-anchor="middle" fill="#222" stroke="#222" stroke-width="0.12">58%</text>
<line x1="290.61" y1="567.3" x2="290.61" y2="570.8" stroke="#333" stroke-width="0.8"/>
<text x="290.61" y="577.9" font-size="4.8" text-anchor="middle" fill="#222" stroke="#222" stroke-width="0.12">BL:</text>
<text x="290.61" y="583.7" font-size="4.8" text-anchor="middle" fill="#222" stroke="#222" stroke-width="0.12">76.6%</text>
<line x1="303.50" y1="567.3" x2="303.50" y2="570.8" stroke="#333" stroke-width="0.8"/>
<text x="303.50" y="577.9" font-size="4.8" text-anchor="middle" fill="#222" stroke="#222" stroke-width="0.12">BL:</text>
<text x="303.50" y="583.7" font-size="4.8" text-anchor="middle" fill="#222" stroke="#222" stroke-width="0.12">45%</text>
<line x1="316.39" y1="567.3" x2="316.39" y2="570.8" stroke="#333" stroke-width="0.8"/>
<text x="316.39" y="577.9" font-size="4.8" text-anchor="middle" fill="#222" stroke="#222" stroke-width="0.12">BL:</text>
<text x="316.39" y="583.7" font-size="4.8" text-anchor="middle" fill="#222" stroke="#222" stroke-width="0.12">10%</text>
<line x1="329.28" y1="567.3" x2="329.28" y2="570.8" stroke="#333" stroke-width="0.8"/>
<text x="329.28" y="577.9" font-size="4.8" text-anchor="middle" fill="#222" stroke="#222" stroke-width="0.12">BL:</text>
<text x="329.28" y="583.7" font-size="4.8" text-anchor="middle" fill="#222" stroke="#222" stroke-width="0.12">35%</text>
<line x1="342.17" y1="567.3" x2="342.17" y2="570.8" stroke="#333" stroke-width="0.8"/>
<text x="342.17" y="577.9" font-size="4.8" text-anchor="middle" fill="#222" stroke="#222" stroke-width="0.12">BL:</text>
<text x="342.17" y="583.7" font-size="4.8" text-anchor="middle" fill="#222" stroke="#222" stroke-width="0.12">80%</text>
<line x1="355.06" y1="567.3" x2="355.06" y2="570.8" stroke="#333" stroke-width="0.8"/>
<text x="355.06" y="577.9" font-size="4.8" text-anchor="middle" fill="#222" stroke="#222" stroke-width="0.12">BL:</text>
<text x="355.06" y="583.7" font-size="4.8" text-anchor="middle" fill="#222" stroke="#222" stroke-width="0.12">74%</text>
<line x1="367.95" y1="567.3" x2="367.95" y2="570.8" stroke="#333" stroke-width="0.8"/>
<text x="367.95" y="577.9" font-size="4.8" text-anchor="middle" fill="#222" stroke="#222" stroke-width="0.12">BL:</text>
<text x="367.95" y="583.7" font-size="4.8" text-anchor="middle" fill="#222" stroke="#222" stroke-width="0.12">8%</text>
<line x1="380.84" y1="567.3" x2="380.84" y2="570.8" stroke="#333" stroke-width="0.8"/>
<text x="380.84" y="577.9" font-size="4.8" text-anchor="middle" fill="#222" stroke="#222" stroke-width="0.12">BL:</text>
<text x="380.84" y="583.7" font-size="4.8" text-anchor="middle" fill="#222" stroke="#222" stroke-width="0.12">30%</text>
<line x1="393.73" y1="567.3" x2="393.73" y2="570.8" stroke="#333" stroke-width="0.8"/>
<text x="393.73" y="577.9" font-size="4.8" text-anchor="middle" fill="#222" stroke="#222" stroke-width="0.12">BL:</text>
<text x="393.73" y="583.7" font-size="4.8" text-anchor="middle" fill="#222" stroke="#222" stroke-width="0.12">26%</text>
<line x1="406.62" y1="567.3" x2="406.62" y2="570.8" stroke="#333" stroke-width="0.8"/>
<text x="406.62" y="577.9" font-size="4.8" text-anchor="middle" fill="#222" stroke="#222" stroke-width="0.12">BL:</text>
<text x="406.62" y="583.7" font-size="4.8" text-anchor="middle" fill="#222" stroke="#222" stroke-width="0.12">42%</text>
<line x1="419.51" y1="567.3" x2="419.51" y2="570.8" stroke="#333" stroke-width="0.8"/>
<text x="419.51" y="577.9" font-size="4.8" text-anchor="middle" fill="#222" stroke="#222" stroke-width="0.12">BL:</text>
<text x="419.51" y="583.7" font-size="4.8" text-anchor="middle" fill="#222" stroke="#222" stroke-width="0.12">7%</text>
<line x1="432.40" y1="567.3" x2="432.40" y2="570.8" stroke="#333" stroke-width="0.8"/>
<text x="432.40" y="577.9" font-size="4.8" text-anchor="middle" fill="#222" stroke="#222" stroke-width="0.12">BL:</text>
<text x="432.40" y="583.7" font-size="4.8" text-anchor="middle" fill="#222" stroke="#222" stroke-width="0.12">4%</text>
<line x1="445.29" y1="567.3" x2="445.29" y2="570.8" stroke="#333" stroke-width="0.8"/>
<text x="445.29" y="577.9" font-size="4.8" text-anchor="middle" fill="#222" stroke="#222" stroke-width="0.12">BL:</text>
<text x="445.29" y="583.7" font-size="4.8" text-anchor="middle" fill="#222" stroke="#222" stroke-width="0.12">10%</text>
<text transform="translate(12.7,530.6) rotate(-90) scale(0.8,1)" x="0" y="0" font-size="6.5" textLength="73.75" lengthAdjust="spacing" fill="#231f20" stroke="#231f20" stroke-width="0.2">% Change from baseline</text>
<text x="459.2" y="442.8" font-size="5.9" fill="#231f20" stroke="#231f20" stroke-width="0.12">Cohort</text>
<rect x="459.2" y="447.35" width="5.6" height="5.5" fill="#d6d6c3"/>
<text x="467.9" y="452.25" font-size="6.25" fill="#231f20" stroke="#231f20" stroke-width="0.12">0.15 mg Q3W</text>
<rect x="459.2" y="456.85" width="5.6" height="5.5" fill="#90ad89"/>
<text x="467.9" y="461.75" font-size="6.25" fill="#231f20" stroke="#231f20" stroke-width="0.12">0.5 mg Q3W</text>
<rect x="459.2" y="466.35" width="5.6" height="5.5" fill="#3aa33b"/>
<text x="467.9" y="471.25" font-size="6.25" fill="#231f20" stroke="#231f20" stroke-width="0.12">1 mg Q3W</text>
<rect x="459.2" y="475.85" width="5.6" height="5.5" fill="#8ea79b"/>
<text x="467.9" y="480.75" font-size="6.25" fill="#231f20" stroke="#231f20" stroke-width="0.12">2 mg Q3W</text>
<rect x="459.2" y="485.35" width="5.6" height="5.5" fill="#1c6846"/>
<text x="467.9" y="490.25" font-size="6.25" fill="#231f20" stroke="#231f20" stroke-width="0.12">4 mg Q3W</text>
<rect x="459.2" y="494.85" width="5.6" height="5.5" fill="#c9c9cd"/>
<text x="467.9" y="499.75" font-size="6.25" fill="#231f20" stroke="#231f20" stroke-width="0.12">1/3 mg Q3W</text>
<rect x="459.2" y="504.35" width="5.6" height="5.5" fill="#9c9ca8"/>
<text x="467.9" y="509.25" font-size="6.25" fill="#231f20" stroke="#231f20" stroke-width="0.12">1/6 mg Q3W</text>
<rect x="459.2" y="513.85" width="5.6" height="5.5" fill="#3b4659"/>
<text x="467.9" y="518.75" font-size="6.25" fill="#231f20" stroke="#231f20" stroke-width="0.12">2/12 mg Q3W</text>
<rect x="459.2" y="523.35" width="5.6" height="5.5" fill="#a9cdea"/>
<text x="467.9" y="528.25" font-size="6.25" fill="#231f20" stroke="#231f20" stroke-width="0.12">1/3/6 mg Q3W</text>
<rect x="459.2" y="532.85" width="5.6" height="5.5" fill="#2b9fd8"/>
<text x="467.9" y="537.75" font-size="6.25" fill="#231f20" stroke="#231f20" stroke-width="0.12">1/6/12 mg Q3W</text>
<rect x="459.2" y="542.35" width="5.6" height="5.5" fill="#8090b9"/>
<text x="467.9" y="547.25" font-size="6.25" fill="#231f20" stroke="#231f20" stroke-width="0.12">1/3/12 mg Q3W</text>
<rect x="459.2" y="551.85" width="5.6" height="5.5" fill="#1a4b82"/>
<text x="467.9" y="556.75" font-size="6.25" fill="#231f20" stroke="#231f20" stroke-width="0.12">1/3/18 mg Q3W</text>
<rect x="459.2" y="561.35" width="5.6" height="5.5" fill="#f0940f"/>
<text x="467.9" y="566.25" font-size="6.25" fill="#231f20" stroke="#231f20" stroke-width="0.12">1/3/9 mg QW</text>
<rect x="0" y="0" width="520" height="1.05" fill="#555"/><rect x="0" y="589.7" width="520" height="1.3" fill="#555"/><rect x="0" y="0" width="1.2" height="591" fill="#555"/><rect x="518.8" y="0" width="1.2" height="591" fill="#555"/>
</svg></body></html>
